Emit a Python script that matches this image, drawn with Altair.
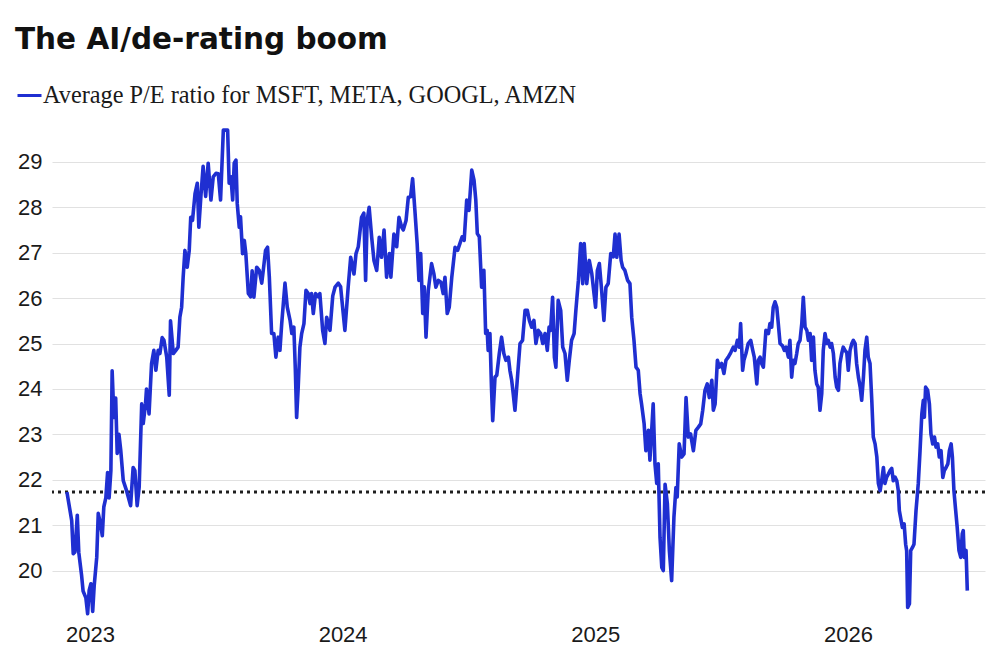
import altair as alt
import pandas as pd

# Decimal-year positions and average P/E values
years = [
    2022.909, 2022.928, 2022.934, 2022.941, 2022.950, 2022.956, 2022.967, 2022.973, 2022.984, 2022.991,
    2022.997, 2023.004, 2023.011, 2023.017, 2023.027, 2023.033, 2023.042, 2023.049, 2023.055, 2023.063,
    2023.070, 2023.076, 2023.083, 2023.088, 2023.095, 2023.102, 2023.108, 2023.115, 2023.122, 2023.132,
    2023.145, 2023.161, 2023.171, 2023.178, 2023.187, 2023.195, 2023.205, 2023.211, 2023.220, 2023.224,
    2023.234, 2023.244, 2023.253, 2023.261, 2023.270, 2023.277, 2023.286, 2023.293, 2023.304, 2023.314,
    2023.319, 2023.330, 2023.340, 2023.349, 2023.356, 2023.363, 2023.369, 2023.376, 2023.385, 2023.393,
    2023.399, 2023.406, 2023.416, 2023.425, 2023.431, 2023.439, 2023.448, 2023.458, 2023.468, 2023.479,
    2023.488, 2023.499, 2023.508, 2023.517, 2023.528, 2023.538, 2023.545, 2023.551, 2023.558, 2023.565,
    2023.571, 2023.578, 2023.583, 2023.591, 2023.596, 2023.604, 2023.611, 2023.617, 2023.627, 2023.636,
    2023.642, 2023.649, 2023.660, 2023.670, 2023.680, 2023.686, 2023.695, 2023.703, 2023.710, 2023.719,
    2023.728, 2023.736, 2023.745, 2023.752, 2023.759, 2023.772, 2023.781, 2023.792, 2023.799, 2023.807,
    2023.813, 2023.818, 2023.824, 2023.831, 2023.838, 2023.847, 2023.855, 2023.864, 2023.871, 2023.877,
    2023.884, 2023.893, 2023.904, 2023.910, 2023.921, 2023.930, 2023.937, 2023.943, 2023.950, 2023.961,
    2023.970, 2023.983, 2023.992, 2024.009, 2024.022, 2024.032, 2024.045, 2024.053, 2024.062, 2024.075,
    2024.084, 2024.091, 2024.097, 2024.105, 2024.115, 2024.124, 2024.135, 2024.145, 2024.154, 2024.164,
    2024.174, 2024.185, 2024.191, 2024.203, 2024.214, 2024.223, 2024.234, 2024.240, 2024.251, 2024.260,
    2024.269, 2024.277, 2024.286, 2024.295, 2024.302, 2024.309, 2024.317, 2024.323, 2024.330, 2024.339,
    2024.352, 2024.361, 2024.369, 2024.379, 2024.389, 2024.398, 2024.405, 2024.414, 2024.422, 2024.432,
    2024.445, 2024.455, 2024.464, 2024.473, 2024.481, 2024.491, 2024.500, 2024.511, 2024.520, 2024.527,
    2024.533, 2024.541, 2024.550, 2024.559, 2024.566, 2024.572, 2024.576, 2024.583, 2024.589, 2024.594,
    2024.603, 2024.610, 2024.620, 2024.629, 2024.638, 2024.646, 2024.656, 2024.662, 2024.669, 2024.675,
    2024.682, 2024.691, 2024.702, 2024.712, 2024.722, 2024.731, 2024.739, 2024.748, 2024.757, 2024.765,
    2024.774, 2024.784, 2024.792, 2024.801, 2024.810, 2024.817, 2024.823, 2024.831, 2024.838, 2024.844,
    2024.853, 2024.863, 2024.871, 2024.880, 2024.889, 2024.897, 2024.906, 2024.916, 2024.923, 2024.933,
    2024.942, 2024.950, 2024.956, 2024.966, 2024.976, 2024.986, 2024.992, 2025.001, 2025.008, 2025.016,
    2025.025, 2025.034, 2025.042, 2025.051, 2025.061, 2025.071, 2025.078, 2025.085, 2025.094, 2025.102,
    2025.108, 2025.117, 2025.128, 2025.137, 2025.144, 2025.153, 2025.161, 2025.170, 2025.177, 2025.183,
    2025.193, 2025.200, 2025.210, 2025.216, 2025.223, 2025.229, 2025.236, 2025.243, 2025.249, 2025.256,
    2025.263, 2025.269, 2025.276, 2025.285, 2025.293, 2025.302, 2025.311, 2025.319, 2025.324, 2025.332,
    2025.342, 2025.351, 2025.359, 2025.368, 2025.377, 2025.388, 2025.398, 2025.408, 2025.417, 2025.425,
    2025.434, 2025.443, 2025.451, 2025.461, 2025.467, 2025.474, 2025.483, 2025.491, 2025.500, 2025.509,
    2025.517, 2025.526, 2025.536, 2025.546, 2025.553, 2025.562, 2025.570, 2025.575, 2025.583, 2025.588,
    2025.596, 2025.605, 2025.615, 2025.623, 2025.629, 2025.639, 2025.645, 2025.652, 2025.658, 2025.665,
    2025.675, 2025.685, 2025.691, 2025.698, 2025.704, 2025.711, 2025.718, 2025.724, 2025.731, 2025.741,
    2025.748, 2025.755, 2025.764, 2025.770, 2025.777, 2025.783, 2025.790, 2025.797, 2025.803, 2025.810,
    2025.817, 2025.823, 2025.830, 2025.837, 2025.843, 2025.850, 2025.856, 2025.863, 2025.869, 2025.876,
    2025.882, 2025.889, 2025.896, 2025.902, 2025.909, 2025.916, 2025.922, 2025.929, 2025.935, 2025.942,
    2025.949, 2025.955, 2025.962, 2025.968, 2025.975, 2025.981, 2025.988, 2025.995, 2026.001, 2026.008,
    2026.015, 2026.021, 2026.028, 2026.034, 2026.041, 2026.048, 2026.054, 2026.061, 2026.067, 2026.074,
    2026.080, 2026.087, 2026.094, 2026.100, 2026.107, 2026.114, 2026.120, 2026.127, 2026.133, 2026.140,
    2026.146, 2026.153, 2026.160, 2026.166, 2026.173, 2026.179, 2026.186, 2026.193, 2026.199, 2026.203,
    2026.215, 2026.222, 2026.228, 2026.232, 2026.236, 2026.243, 2026.248, 2026.255, 2026.261, 2026.269,
    2026.278, 2026.285, 2026.292, 2026.298, 2026.302, 2026.307, 2026.315, 2026.322, 2026.328, 2026.335,
    2026.342, 2026.348, 2026.355, 2026.361, 2026.368, 2026.375, 2026.381, 2026.388, 2026.395, 2026.401,
    2026.408, 2026.413, 2026.419, 2026.426, 2026.432, 2026.439, 2026.446, 2026.452, 2026.456, 2026.460,
    2026.467, 2026.472,
]

pe_ratio = [
    21.73, 21.10, 20.37, 20.41, 21.22, 20.40, 19.90, 19.55, 19.40, 19.05,
    19.56, 19.71, 19.10, 19.67, 20.29, 21.26, 21.03, 20.77, 21.40, 21.60,
    22.16, 21.60, 22.20, 24.40, 23.37, 23.80, 22.58, 23.00, 22.65, 21.98,
    21.76, 21.43, 22.27, 22.20, 21.43, 21.84, 23.67, 23.24, 23.67, 24.00,
    23.45, 24.56, 24.85, 24.41, 24.85, 24.78, 25.13, 25.07, 24.70, 23.86,
    25.50, 24.78, 24.85, 24.92, 25.58, 25.80, 26.46, 27.05, 26.68, 27.05,
    27.78, 27.71, 28.30, 28.53, 27.56, 28.23, 28.90, 28.24, 28.97, 28.16,
    28.67, 28.75, 28.74, 28.16, 29.70, 29.70, 29.70, 28.53, 28.67, 28.16,
    28.97, 29.04, 28.08, 27.56, 27.79, 26.98, 27.27, 26.98, 26.10, 26.03,
    26.60, 26.02, 26.68, 26.61, 26.33, 26.61, 27.05, 27.12, 26.46, 25.22,
    25.22, 24.70, 25.14, 24.85, 25.44, 26.33, 25.80, 25.51, 25.22, 25.36,
    24.41, 23.37, 24.00, 24.92, 25.22, 25.44, 26.17, 26.10, 25.88, 26.10,
    25.66, 26.10, 26.03, 26.10, 25.29, 25.00, 25.58, 25.44, 25.29, 26.05,
    26.24, 26.33, 26.25, 25.29, 26.24, 26.90, 26.53, 26.98, 27.13, 27.78,
    27.87, 26.39, 27.71, 28.00, 27.34, 26.83, 26.61, 27.34, 26.90, 27.50,
    26.46, 26.98, 26.46, 27.41, 27.13, 27.78, 27.56, 27.50, 27.71, 28.22,
    28.23, 28.63, 27.93, 27.20, 26.39, 26.98, 25.66, 26.25, 25.14, 26.17,
    26.76, 26.54, 26.24, 26.39, 26.35, 26.10, 26.46, 25.66, 25.80, 26.46,
    27.12, 27.05, 27.20, 27.35, 27.27, 28.16, 27.93, 28.82, 28.60, 28.16,
    27.42, 27.35, 26.24, 26.61, 25.22, 25.29, 24.85, 25.22, 24.04, 23.30,
    24.26, 24.30, 24.78, 25.14, 24.78, 24.63, 24.70, 24.41, 24.19, 23.90,
    23.53, 24.19, 25.00, 25.07, 25.73, 25.73, 25.51, 25.36, 25.51, 25.00,
    25.29, 25.22, 25.00, 25.22, 24.85, 25.36, 25.29, 26.02, 24.70, 24.48,
    25.95, 25.73, 24.92, 24.78, 24.19, 24.63, 25.07, 25.22, 25.73, 26.39,
    27.20, 26.32, 27.20, 26.32, 26.83, 26.54, 26.24, 25.80, 26.61, 26.76,
    26.17, 25.51, 26.24, 26.32, 26.98, 26.91, 27.41, 26.90, 27.41, 26.83,
    26.68, 26.61, 26.39, 26.32, 25.58, 25.07, 24.48, 24.41, 23.90, 23.67,
    23.24, 22.64, 23.09, 22.43, 23.09, 23.67, 22.35, 21.92, 22.35, 20.73,
    20.07, 20.00, 21.90, 21.48, 20.44, 19.78, 21.17, 21.83, 21.62, 22.79,
    22.50, 22.57, 23.81, 22.94, 23.01, 22.64, 23.09, 23.16, 23.23, 23.53,
    23.97, 24.11, 23.81, 24.19, 23.53, 23.67, 24.63, 24.48, 24.56, 24.34,
    24.63, 24.70, 24.80, 24.92, 24.85, 25.07, 24.92, 25.44, 24.41, 24.63,
    24.78, 25.00, 25.07, 24.85, 24.70, 24.11, 24.63, 24.70, 24.56, 24.48,
    25.29, 25.22, 25.44, 25.36, 25.80, 25.92, 25.80, 25.44, 25.00, 24.95,
    24.85, 24.92, 24.70, 25.07, 24.26, 24.63, 24.56, 24.78, 25.00, 25.07,
    25.44, 26.02, 25.36, 25.29, 25.07, 25.22, 24.63, 25.14, 24.41, 24.11,
    24.04, 23.53, 23.90, 24.85, 25.22, 25.00, 25.07, 24.92, 25.00, 24.78,
    24.26, 24.04, 23.97, 24.56, 24.78, 24.92, 24.85, 24.80, 24.41, 24.85,
    25.00, 25.07, 25.00, 24.56, 24.26, 24.04, 23.75, 24.26, 24.85, 25.14,
    24.70, 24.56, 23.75, 22.94, 22.79, 22.50, 21.92, 21.76, 21.98, 22.27,
    21.92, 22.06, 22.13, 22.20, 22.25, 21.98, 22.06, 21.98, 21.76, 21.32,
    20.95, 21.03, 20.58, 20.44, 19.19, 19.27, 20.44, 20.51, 20.58, 21.32,
    21.92, 22.64, 23.45, 23.75, 23.38, 24.04, 23.97, 23.67, 23.01, 22.79,
    22.94, 22.72, 22.79, 22.50, 22.64, 22.05, 22.20, 22.27, 22.35, 22.64,
    22.79, 22.50, 21.76, 21.32, 20.95, 20.44, 20.29, 20.81, 20.88, 20.29,
    20.44, 19.56,
]

series_name = "Average P/E ratio for MSFT, META, GOOGL, AMZN"
average_pe = [21.73]
y_tick_values = [20, 21, 22, 23, 24, 25, 26, 27, 28, 29]
x_tick_values = [2023, 2024, 2025, 2026]

df = pd.DataFrame({"year": years, "pe": pe_ratio, "series": series_name})
avg_df = pd.DataFrame({"avg": average_pe})

LINE_BLUE = "#1f2fd1"
TEXT = "#1a1a1a"

x_scale = alt.Scale(domain=[2022.85, 2026.542], nice=False, zero=False)
y_scale = alt.Scale(domain=[19.0, 29.9], nice=False, zero=False)

rule = alt.Chart(avg_df).mark_rule(
    strokeDash=[3, 4], strokeWidth=3, color="#1e1e1e"
).encode(
    y=alt.Y("avg:Q", scale=y_scale)
)

line = alt.Chart(df).mark_line(strokeWidth=3.6, strokeJoin="round").encode(
    x=alt.X(
        "year:Q",
        scale=x_scale,
        axis=alt.Axis(
            values=x_tick_values, format="d", title=None, grid=False,
            domain=False, ticks=False, labelFontSize=22, labelPadding=8,
            labelFont="Liberation Sans", labelColor=TEXT, labelFlush=False,
        ),
    ),
    y=alt.Y(
        "pe:Q",
        scale=y_scale,
        axis=alt.Axis(
            values=y_tick_values, title=None, domain=False, ticks=False,
            labelFontSize=22, labelPadding=10, labelFont="Liberation Sans",
            labelColor=TEXT, gridColor="#e1e1e1", gridWidth=1,
        ),
    ),
    color=alt.Color(
        "series:N",
        scale=alt.Scale(range=[LINE_BLUE]),
        legend=alt.Legend(
            title=None, orient="none", legendX=-36, legendY=-39,
            symbolType="stroke", symbolSize=576, symbolStrokeWidth=3,
            symbolStrokeColor="#2b2f7e", labelFont="Liberation Serif",
            labelFontSize=24.3, labelColor=TEXT, labelOffset=0,
            labelLimit=800, padding=0,
        ),
    ),
)

chart = alt.layer(rule, line).properties(
    width=933,
    height=495,
    autosize=alt.AutoSizeParams(type="none"),
    padding={"left": 52, "top": 121, "right": 15, "bottom": 30},
    background="white",
    title=alt.TitleParams(
        text="The AI/de-rating boom",
        anchor="start", frame="group", dx=-37, offset=3.4,
        baseline="alphabetic",
        font="DejaVu Sans", fontSize=29.5, fontWeight="bold", color="#111111",
    ),
).configure_view(stroke=None)

chart.save("out.html", embed_options={"renderer": "svg", "actions": False})
